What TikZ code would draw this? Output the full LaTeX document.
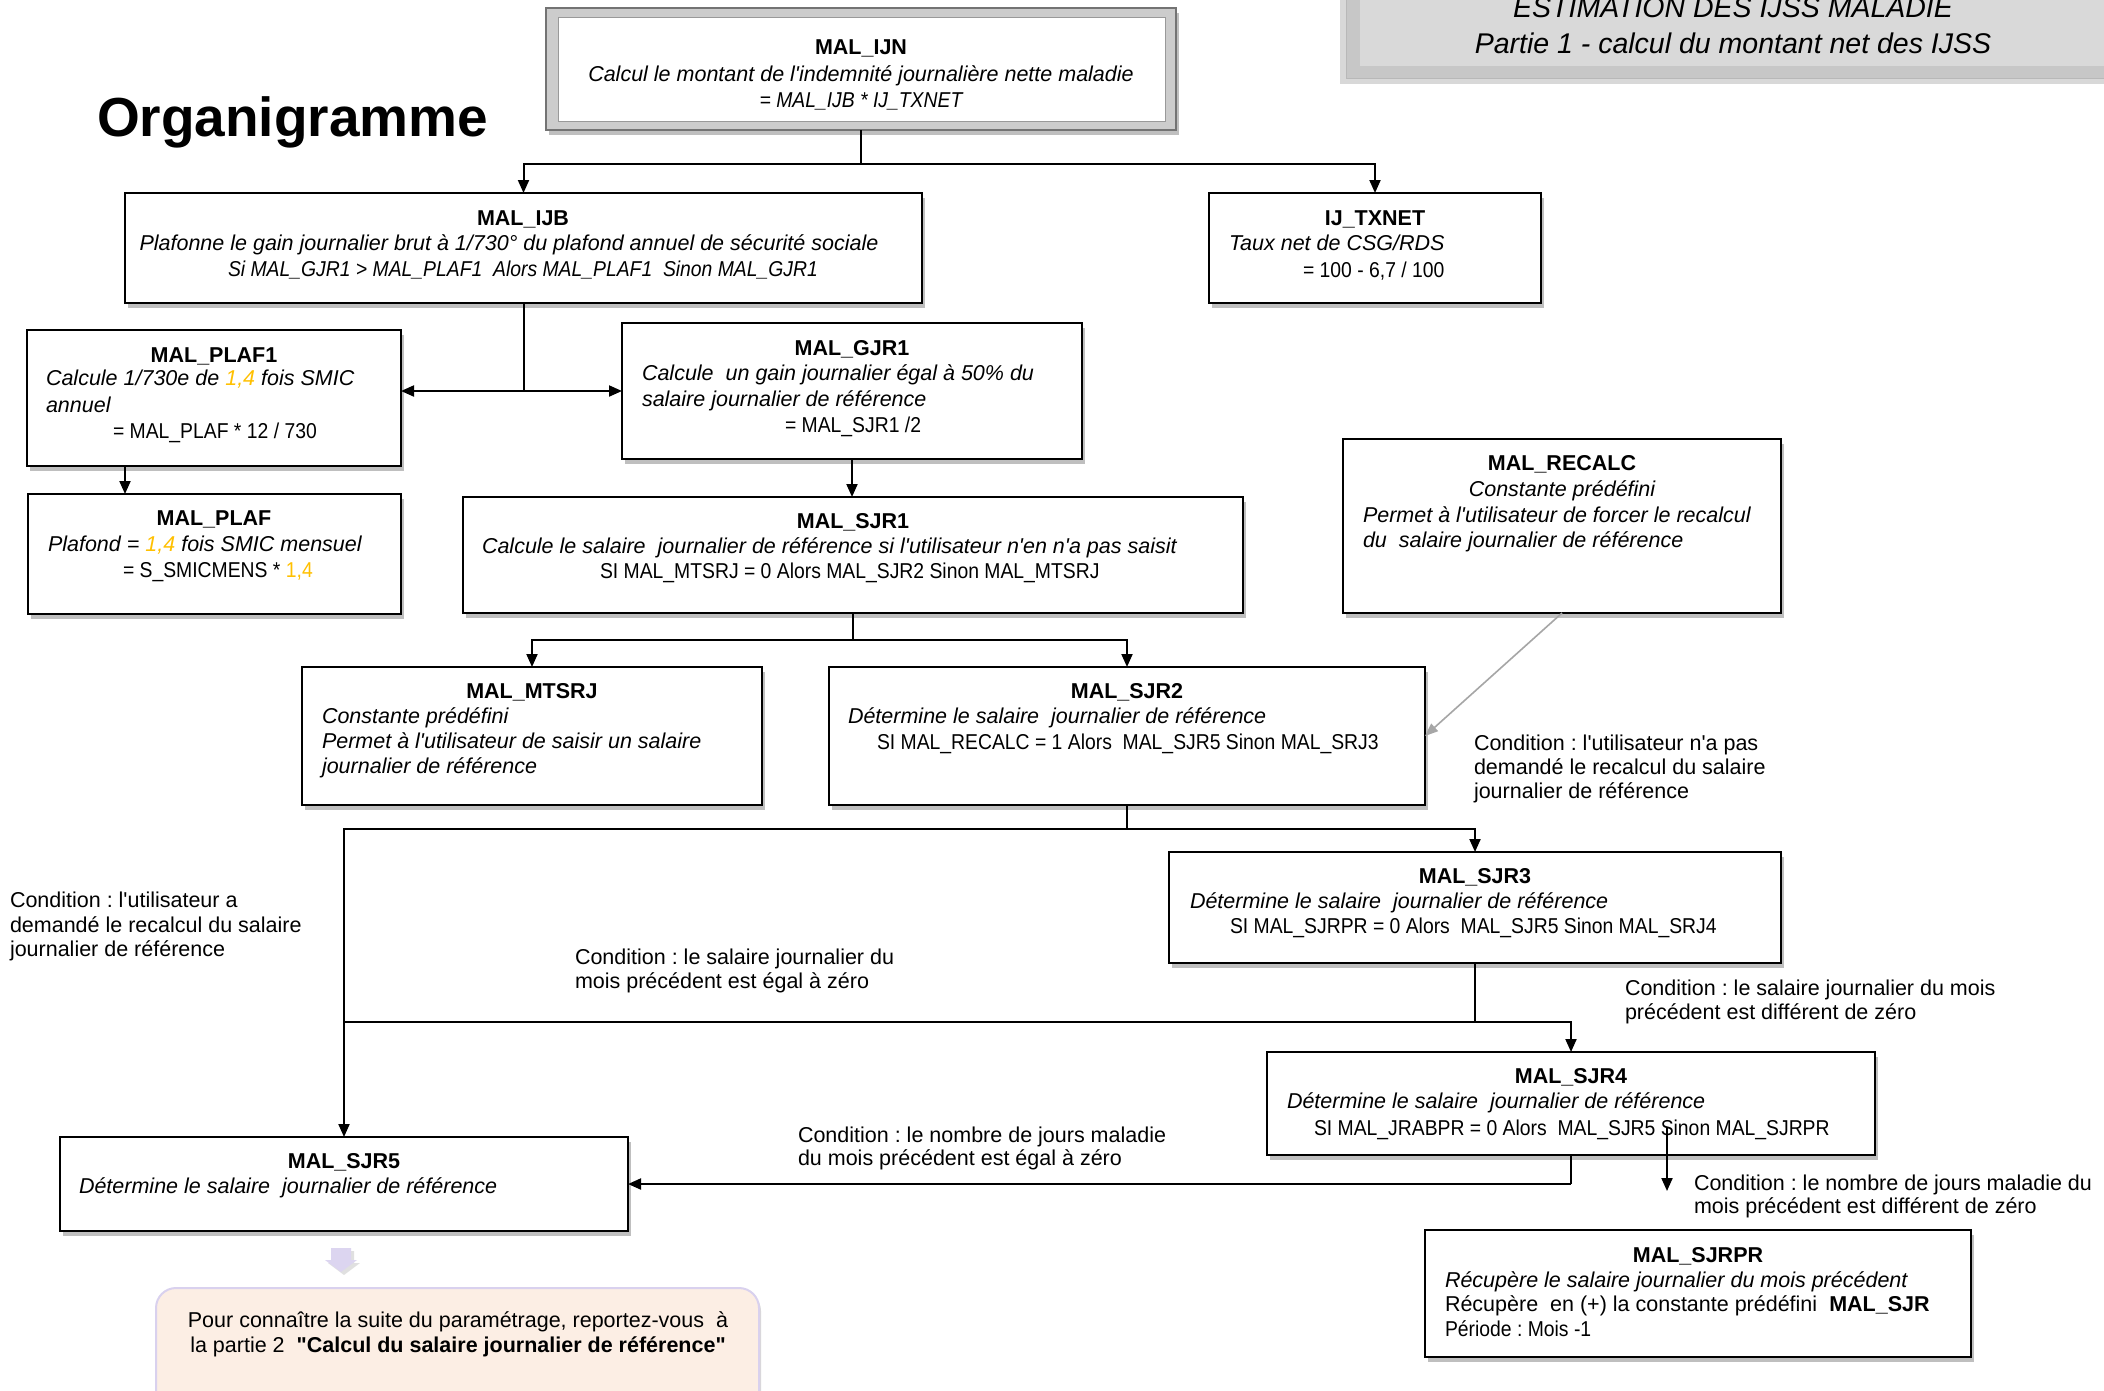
\documentclass[tikz,border=0pt]{standalone}
\usepackage{fontspec}
\setmainfont{Liberation Sans}[Ligatures=TeXOff]
\newfontfamily\narrowf{Liberation Sans}[FakeStretch=0.9, Ligatures=TeXOff]
\usetikzlibrary{arrows.meta,shadows,calc}
\definecolor{amber}{HTML}{FFC000}
\definecolor{notefill}{HTML}{FCEEE4}
\definecolor{notedraw}{HTML}{D9D1EE}
\definecolor{lav}{HTML}{DCD5F0}
\newcommand\myfs{\fontsize{21.5}{25.5}\selectfont}
\frenchspacing
\begin{document}
\frenchspacing
\begin{tikzpicture}[x=1pt,y=-1pt,
  every node/.style={inner sep=0pt,outer sep=0pt,font=\myfs},
  box/.style={draw=black, line width=1.3pt, fill=white, anchor=north west,
    drop shadow={shadow xshift=3pt, shadow yshift=-5pt, opacity=0.25, fill=black}},
  ttl/.style={anchor=base, font=\myfs\bfseries},
  itl/.style={anchor=base west, font=\myfs\itshape},
  itc/.style={anchor=base, font=\myfs\itshape},
  itcn/.style={anchor=base, font=\myfs\narrowf\itshape},
  txl/.style={anchor=base west},
  nar/.style={anchor=base west, font=\myfs\narrowf},
  cond/.style={anchor=base west},
  conn/.style={line width=2pt},
  arr/.style={conn, -{Triangle[length=13pt,width=11pt]}},
  darr/.style={conn, {Triangle[length=13pt,width=11pt]}-{Triangle[length=13pt,width=11pt]}},
  grayarr/.style={line width=1.6pt, draw=black!35, -{Triangle[length=13pt,width=10pt]}}
]
\clip (0,0) rectangle (2104,1390);
\fill[white] (0,0) rectangle (2104,1390);

% header box
\fill[black!30, opacity=0.5] (1340,-10) rectangle (2110,84);
\draw[fill=black!22, draw=black!28] (1346,-10) rectangle (2110,78);
\fill[black!15] (1360,-10) rectangle (2110,66);
\node[anchor=base, font=\fontsize{28.5}{32}\selectfont\itshape] (hdr1) at (1733,17) {ESTIMATION DES IJSS MALADIE};
\node[anchor=base, font=\fontsize{28.5}{32}\selectfont\itshape] (hdr2) at (1733,53) {Partie 1 - calcul du montant net des IJSS};

% title
\node[anchor=base west, font=\fontsize{55}{60}\selectfont\bfseries] (title) at (97,136) {Organigramme};

% MAL_IJN
\node[anchor=north west, minimum width=630pt, minimum height=122pt, fill=black!20, draw=black!55, line width=1.5pt,
  drop shadow={shadow xshift=3pt, shadow yshift=-5pt, opacity=0.25, fill=black}] (ijn) at (546,8) {};
\node[anchor=north west, minimum width=607pt, minimum height=104pt, fill=white, draw=black!40, line width=1pt] (ijnin) at (558,17) {};
\node[ttl] (ijnt) at (861,54) {MAL\_IJN};
\node[itc] (ijn1) at (861,81) {Calcul le montant de l'indemnité journalière nette maladie};
\node[itcn] (ijn2) at (861,107) {= MAL\_IJB * IJ\_TXNET};

% boxes
\node[box, minimum width=797pt, minimum height=110pt] (ijb) at (125,193) {};
\node[box, minimum width=332pt, minimum height=110pt] (txnet) at (1209,193) {};
\node[box, minimum width=374pt, minimum height=136pt] (plaf1) at (27,330) {};
\node[box, minimum width=460pt, minimum height=136pt] (gjr1) at (622,323) {};
\node[box, minimum width=373pt, minimum height=120pt] (plaf) at (28,494) {};
\node[box, minimum width=780pt, minimum height=116pt] (sjr1) at (463,497) {};
\node[box, minimum width=438pt, minimum height=174pt] (recalc) at (1343,439) {};
\node[box, minimum width=460pt, minimum height=138pt] (mtsrj) at (302,667) {};
\node[box, minimum width=596pt, minimum height=138pt] (sjr2) at (829,667) {};
\node[box, minimum width=612pt, minimum height=111pt] (sjr3) at (1169,852) {};
\node[box, minimum width=608pt, minimum height=103pt] (sjr4) at (1267,1052) {};
\node[box, minimum width=568pt, minimum height=94pt] (sjr5) at (60,1137) {};
\node[box, minimum width=546pt, minimum height=127pt] (sjrpr) at (1425,1230) {};

% texts
\node[ttl] (ijbt) at (523,225) {MAL\_IJB};
\node[itc] (ijb1) at (509,250) {Plafonne le gain journalier brut à 1/730° du plafond annuel de sécurité sociale};
\node[itcn] (ijb2) at (523,276) {Si MAL\_GJR1 > MAL\_PLAF1\ \ Alors MAL\_PLAF1\ \ Sinon MAL\_GJR1};

\node[ttl] (txt) at (1375,225) {IJ\_TXNET};
\node[itl] (tx1) at (1229,250) {Taux net de CSG/RDS};
\node[nar] (tx2) at (1303,277) {= 100 - 6,7 / 100};

\node[ttl] (plaf1t) at (214,362) {MAL\_PLAF1};
\node[itl] (plaf11) at (46,385) {Calcule 1/730e de \textcolor{amber}{1,4} fois SMIC};
\node[itl] (plaf12) at (46,412) {annuel};
\node[nar] (plaf13) at (113,438) {= MAL\_PLAF * 12 / 730};

\node[ttl] (gjr1t) at (852,355) {MAL\_GJR1};
\node[itl] (gjr11) at (642,380) {Calcule\ \ un gain journalier égal à 50\% du};
\node[itl] (gjr12) at (642,406) {salaire journalier de référence};
\node[nar] (gjr13) at (785,432) {= MAL\_SJR1 /2};

\node[ttl] (plaft) at (214,525) {MAL\_PLAF};
\node[itl] (plaf21) at (48,551) {Plafond = \textcolor{amber}{1,4} fois SMIC mensuel};
\node[nar] (plaf22) at (123,577) {= S\_SMICMENS * \textcolor{amber}{1,4}};

\node[ttl] (sjr1t) at (853,528) {MAL\_SJR1};
\node[itl] (sjr11) at (482,553) {Calcule le salaire\ \ journalier de référence si l'utilisateur n'en n'a pas saisit};
\node[nar] (sjr12) at (600,578) {SI MAL\_MTSRJ = 0 Alors MAL\_SJR2 Sinon MAL\_MTSRJ};

\node[ttl] (recalct) at (1562,470) {MAL\_RECALC};
\node[itc] (recalc1) at (1562,496) {Constante prédéfini};
\node[itl] (recalc2) at (1363,522) {Permet à l'utilisateur de forcer le recalcul};
\node[itl] (recalc3) at (1363,547) {du\ \ salaire journalier de référence};

\node[ttl] (mtsrjt) at (532,698) {MAL\_MTSRJ};
\node[itl] (mtsrj1) at (322,723) {Constante prédéfini};
\node[itl] (mtsrj2) at (322,748) {Permet à l'utilisateur de saisir un salaire};
\node[itl] (mtsrj3) at (322,773) {journalier de référence};

\node[ttl] (sjr2t) at (1127,698) {MAL\_SJR2};
\node[itl] (sjr21) at (848,723) {Détermine le salaire\ \ journalier de référence};
\node[nar] (sjr22) at (877,749) {SI MAL\_RECALC = 1 Alors\ \ MAL\_SJR5 Sinon MAL\_SRJ3};

\node[ttl] (sjr3t) at (1475,883) {MAL\_SJR3};
\node[itl] (sjr31) at (1190,908) {Détermine le salaire\ \ journalier de référence};
\node[nar] (sjr32) at (1230,933) {SI MAL\_SJRPR = 0 Alors\ \ MAL\_SJR5 Sinon MAL\_SRJ4};

\node[ttl] (sjr4t) at (1571,1083) {MAL\_SJR4};
\node[itl] (sjr41) at (1287,1108) {Détermine le salaire\ \ journalier de référence};
\node[nar] (sjr42) at (1314,1135) {SI MAL\_JRABPR = 0 Alors\ \ MAL\_SJR5 Sinon MAL\_SJRPR};

\node[ttl] (sjr5t) at (344,1168) {MAL\_SJR5};
\node[itl] (sjr51) at (79,1193) {Détermine le salaire\ \ journalier de référence};

\node[ttl] (sjrprt) at (1698,1262) {MAL\_SJRPR};
\node[itl] (sjrpr1) at (1445,1287) {Récupère le salaire journalier du mois précédent};
\node[txl] (sjrpr2) at (1445,1311) {Récupère\ \ en (+) la constante prédéfini\ \ \textbf{MAL\_SJR}};
\node[nar] (sjrpr3) at (1445,1336) {Période : Mois -1};

% conditions
\node[cond] (c1a) at (1474,750) {Condition : l'utilisateur n'a pas};
\node[cond] (c1b) at (1474,774) {demandé le recalcul du salaire};
\node[cond] (c1c) at (1474,798) {journalier de référence};
\node[cond] (c2a) at (10,907) {Condition : l'utilisateur a};
\node[cond] (c2b) at (10,932) {demandé le recalcul du salaire};
\node[cond] (c2c) at (10,956) {journalier de référence};
\node[cond] (c3a) at (575,964) {Condition : le salaire journalier du};
\node[cond] (c3b) at (575,988) {mois précédent est égal à zéro};
\node[cond] (c4a) at (1625,995) {Condition : le salaire journalier du mois};
\node[cond] (c4b) at (1625,1019) {précédent est différent de zéro};
\node[cond] (c5a) at (798,1142) {Condition : le nombre de jours maladie};
\node[cond] (c5b) at (798,1165) {du mois précédent est égal à zéro};
\node[cond] (c6a) at (1694,1190) {Condition : le nombre de jours maladie du};
\node[cond] (c6b) at (1694,1213) {mois précédent est différent de zéro};

% connectors
\coordinate (j1) at (861,164);
\coordinate (j2) at (523.5,391);
\coordinate (j3) at (853,640);
\coordinate (j4) at (1127,829);
\coordinate (j5) at (1475,1022);
\coordinate (j6) at (1571,1184);
\coordinate (fa) at (1667,1128);
\coordinate (fb) at (1667,1191);

\draw[conn] (ijn.south) -- (j1);
\draw[arr] (j1) -| (ijb.north);
\draw[arr] (j1) -| (txnet.north);
\draw[conn] (ijb.south) -- (j2);
\draw[darr] (j2 -| plaf1.east) -- (j2 -| gjr1.west);
\draw[arr] ([xshift=98pt]plaf1.south west) -- ([xshift=97pt]plaf.north west);
\draw[arr] (gjr1.south) -- (gjr1.south |- sjr1.north);
\draw[conn] (sjr1.south) -- (j3);
\draw[arr] (j3) -| (mtsrj.north);
\draw[arr] (j3) -| (sjr2.north);
\draw[conn] (sjr2.south) -- (j4);
\draw[arr] (j4) -| (sjr3.north);
\draw[arr] (j4) -| (sjr5.north);
\draw[conn] (sjr3.south) -- (j5);
\draw[conn] (j5) -- (j5 -| sjr5.north);
\draw[arr] (j5) -| (sjr4.north);
\draw[conn] (sjr4.south) -- (j6);
\draw[arr] (j6) -- (j6 -| sjr5.east);
\draw[arr] (fa) -- (fb);
\draw[grayarr] (recalc.south) -- (sjr2.east);

% purple block arrow
\fill[black, opacity=0.12] (334,1251) -- (354,1251) -- (354,1263) -- (360,1263) -- (344,1275) -- (328,1263) -- (334,1263) -- cycle;
\fill[lav] (331,1248) -- (351,1248) -- (351,1260) -- (357,1260) -- (341,1272) -- (325,1260) -- (331,1260) -- cycle;

% note box
\node[anchor=north west, minimum width=603pt, minimum height=140pt, rounded corners=20pt, fill=notefill, draw=notedraw, line width=2pt,
  drop shadow={shadow xshift=2pt, shadow yshift=-3pt, opacity=0.15, fill=black}] (note) at (156,1288) {};
\node[anchor=base] (note1) at (458,1327) {Pour connaître la suite du paramétrage, reportez-vous\ \ à};
\node[anchor=base] (note2) at (458,1352) {la partie 2\ \ \textbf{"Calcul du salaire journalier de référence"}};
\end{tikzpicture}
\end{document}
